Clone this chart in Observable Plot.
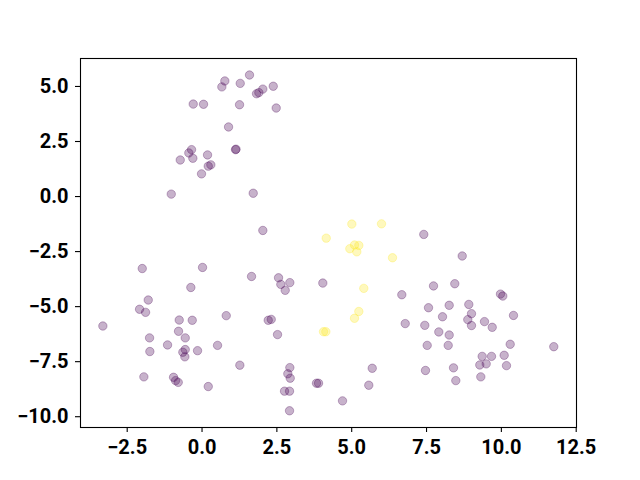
<!DOCTYPE html>
<html>
<head>
<meta charset="utf-8">
<script src="https://cdn.jsdelivr.net/npm/d3@7"></script>
<script src="https://cdn.jsdelivr.net/npm/@observablehq/plot@0.6"></script>
<style>
  html, body { margin: 0; padding: 0; background: #fff; }
  #chart svg { display: block; }
</style>
</head>
<body>
<div id="chart"></div>
<script>
const xA = [0.762,1.586,0.662,1.276,2.031,2.379,1.820,1.898,-0.294,0.050,1.253,2.478,0.886,1.119,1.135,-0.350,-0.441,0.184,-0.728,-0.307,0.294,0.208,-0.017,-1.028,1.710,2.031,
  -1.997,0.017,1.654,2.556,2.632,2.933,2.779,4.035,-0.374,-1.797,-2.087,-1.886,-3.313,-0.762,-0.327,0.809,2.212,2.312,-0.785,-0.561,-1.753,2.522,-1.152,-1.743,-0.561,-0.641,-0.574,-0.150,0.518,1.263,2.933,2.866,2.946,-1.943,-0.952,-0.884,-0.795,0.208,2.756,2.923,3.824,3.892,2.923,
  7.408,8.692,7.733,8.444,6.674,9.970,10.047,7.566,8.257,8.912,9.002,8.034,8.878,9.002,9.436,9.694,10.405,6.788,7.442,7.910,8.257,7.522,8.224,10.295,11.751,9.359,9.671,10.094,9.279,9.493,10.171,5.686,7.465,8.401,9.313,8.478,5.571,4.693];
const yA = [5.25,5.52,4.98,5.14,4.88,5.01,4.67,4.72,4.20,4.19,4.17,4.02,3.16,2.13,2.15,2.13,1.98,1.89,1.66,1.74,1.44,1.38,1.03,0.11,0.15,-1.54,
  -3.27,-3.22,-3.63,-3.69,-3.99,-3.91,-4.26,-3.93,-4.13,-4.70,-5.12,-5.26,-5.88,-5.61,-5.62,-5.41,-5.62,-5.58,-6.12,-6.42,-6.42,-6.27,-6.74,-7.04,-6.95,-7.07,-7.28,-7.00,-6.76,-7.66,-7.77,-8.05,-8.25,-8.19,-8.21,-8.36,-8.44,-8.63,-8.84,-8.84,-8.48,-8.48,-9.73,
  -1.72,-2.70,-4.06,-3.96,-4.46,-4.43,-4.52,-5.05,-4.94,-4.90,-5.32,-5.46,-5.59,-5.86,-5.68,-5.94,-5.40,-5.77,-5.85,-6.15,-6.29,-6.76,-6.76,-6.71,-6.82,-7.26,-7.26,-7.21,-7.65,-7.60,-7.68,-7.80,-7.90,-7.78,-8.19,-8.36,-8.57,-9.28];
const xB = [5.004,5.996,4.149,5.094,5.238,4.937,5.170,6.363,5.404,5.238,5.094,4.058,4.136];
const yB = [-1.25,-1.24,-1.89,-2.20,-2.22,-2.37,-2.51,-2.78,-4.17,-5.22,-5.53,-6.14,-6.14];
const xTicks = [-2.5, 0, 2.5, 5, 7.5, 10, 12.5];
const yTicks = [-10, -7.5, -5, -2.5, 0, 2.5, 5];

const ptsA = xA.map((x, i) => ({x, y: yA[i]}));
const ptsB = xB.map((x, i) => ({x, y: yB[i]}));
const fmt = d3.format(".1f");

const chart = Plot.plot({
  width: 640,
  height: 480,
  marginLeft: 80,
  marginRight: 64,
  marginTop: 58,
  marginBottom: 53,
  style: {fontFamily: "Roboto", fontSize: "20px", fontWeight: "bold", color: "#000", background: "#fff"},
  x: {domain: [-4.06, 12.51], ticks: xTicks, tickFormat: fmt, tickSize: 5, tickPadding: 7, label: null},
  y: {domain: [-10.49, 6.27], ticks: yTicks, tickFormat: fmt, tickSize: 5, tickPadding: 7, label: null},
  marks: [
    Plot.dot(ptsA, {x: "x", y: "y", r: 4.2, fill: "#440154", fillOpacity: 0.3, stroke: "#440154", strokeOpacity: 0.3, strokeWidth: 1}),
    Plot.dot(ptsB, {x: "x", y: "y", r: 4.2, fill: "#fde725", fillOpacity: 0.3, stroke: "#fde725", strokeOpacity: 0.3, strokeWidth: 1}),
    Plot.frame({stroke: "#000", strokeWidth: 1.1}),
    Plot.axisX({ticks: xTicks, tickFormat: fmt, tickSize: 5, tickPadding: 7, strokeWidth: 1.1, label: null}),
    Plot.axisY({ticks: yTicks, tickFormat: fmt, tickSize: 5, tickPadding: 7, strokeWidth: 1.1, label: null})
  ]
});
document.getElementById("chart").appendChild(chart);
</script>
</body>
</html>
